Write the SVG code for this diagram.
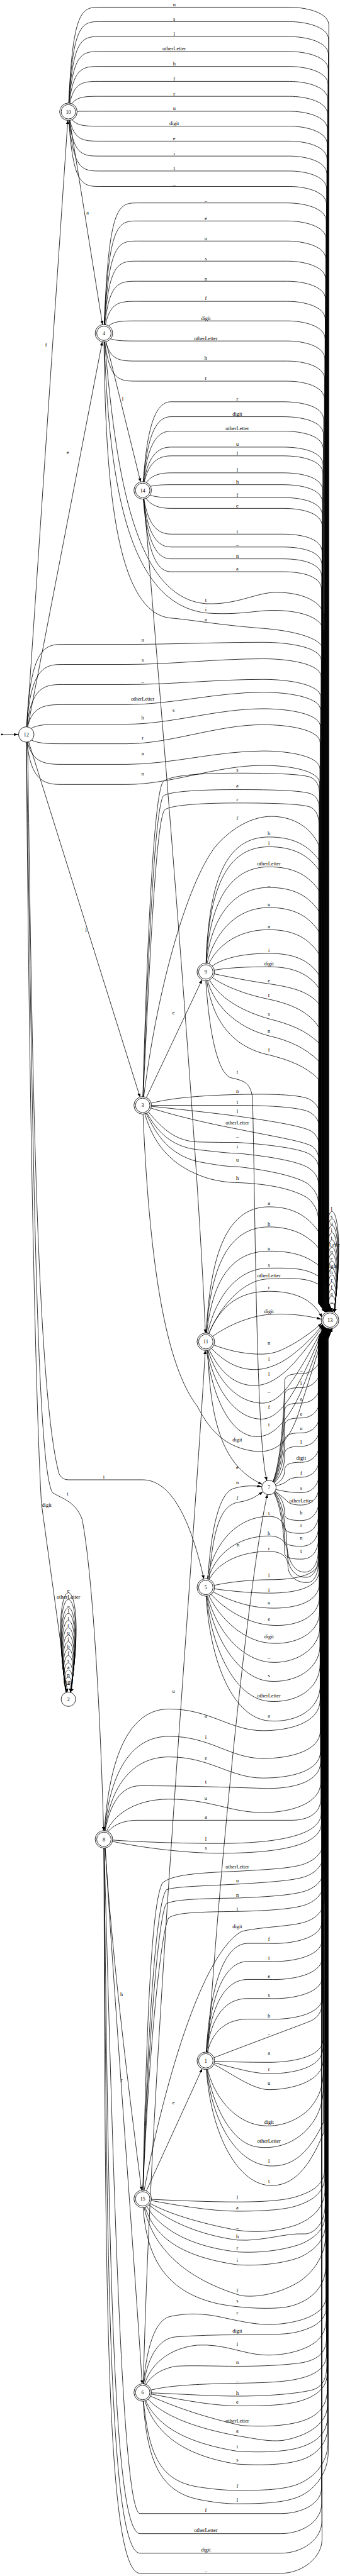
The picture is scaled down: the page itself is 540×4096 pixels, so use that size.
<svg xmlns="http://www.w3.org/2000/svg" width="540" height="4096" viewBox="0 0 540 4096">
<defs>
<marker id="ah" viewBox="0 0 10 7" refX="10" refY="3.5" markerWidth="7" markerHeight="5" orient="auto" markerUnits="userSpaceOnUse"><path d="M0,0L10,3.5L0,7z" fill="#000"/></marker>
<style>
.c path{fill:none;stroke:#000;stroke-width:0.8;vector-effect:non-scaling-stroke;marker-end:url(#ah)}
.t text{font-family:'Liberation Serif','Times New Roman',serif;font-size:10.3px;text-anchor:middle;fill:#000}
.nd circle{fill:#fff;stroke:#000;stroke-width:1}
.nd text{font-family:'Liberation Serif','Times New Roman',serif;font-size:10.3px;text-anchor:middle;fill:#000}
</style>
</defs>
<rect width="540" height="4096" fill="#fff"/>
<g transform="scale(0.819)">
<g id="connectors" class="c" transform="scale(1.275,1)">
<path d="M3,1426H28.2"/>
<path d="M40.8,1411L103.1,234"/>
<path d="M42.2,1411L155.5,664"/>
<path d="M43.5,1440L213,2130"/>
<path d="M42,1438C48,2000 55,2700 90,2862C94,2870 98,2873 105,2873H217C260,2873 290,2950 310,3065.4"/>
<path d="M40,1438C50,2200 55,2850 80,2898C95,2910 115,2915 125,2950C140,3050 152,3300 157.6,3554"/>
<path d="M40,1438C45,2200 55,2750 63,2919L102.5,3285"/>
<path d="M106.1,234L155.9,630"/>
<path d="M161.3,663.5L213.8,935.5"/>
<path d="M219,969C240,1300 300,2200 312.4,2588"/>
<path d="M222.7,2130.6L307.2,1902.4"/>
<path d="M313,1904C318,2000 330,2080 350,2092C370,2098 380,2100 384,2130C388,2300 389,2800 406,2874.6"/>
<path d="M316,2621C320,2780 345,2850 399.1,2882.1"/>
<path d="M316,3066C320,2990 330,2900 355,2890C370,2884 385,2884 398.1,2886.2"/>
<path d="M318,3067C325,2950 340,2920 365,2916C380,2913 390,2905 400,2896"/>
<path d="M316,3985C335,3600 380,3050 406.6,2901.6"/>
<path d="M160,3588C170,3800 200,4100 215.3,4252"/>
<path d="M160,3588C175,3900 205,4400 216.2,4628"/>
<path d="M222.6,4253.5L307.4,4016.5"/>
<path d="M218,4628C230,4000 290,3100 312.2,2622"/>
<path d="M104,217C110,14 125,14 153,14H440C465,14 500.1,24 500.1,49V2530L506.1,2547"/>
<path d="M104,217C110,42 125,42 153,42H440C465,42 499.8,52 499.8,77V2530L505.9,2547"/>
<path d="M104,217C110,71 125,71 153,71H440C465,71 499.5,81 499.5,106V2530L505.7,2547"/>
<path d="M104,217C110,100 125,100 153,100H440C465,100 499.2,110 499.2,135V2530L505.4,2547"/>
<path d="M104,217C110,129 125,129 153,129H440C465,129 498.9,139 498.9,164V2530L505.2,2547"/>
<path d="M104,217C110,158 125,158 153,158H440C465,158 498.6,168 498.6,193V2530L505,2547"/>
<path d="M104,217C110,187 125,187 153,187H440C465,187 498.3,197 498.3,222V2530L504.8,2547"/>
<path d="M104,217C110,216 125,216 153,216H440C465,216 498,226 498,251V2530L504.6,2547"/>
<path d="M104,217C110,245 125,245 153,245H440C465,245 497.7,255 497.7,280V2530L504.3,2547"/>
<path d="M104,217C110,274 125,274 153,274H440C465,274 497.4,284 497.4,309V2530L504.1,2547"/>
<path d="M104,217C110,303 125,303 153,303H440C465,303 497.1,313 497.1,338V2530L503.9,2547"/>
<path d="M104,217C110,332 125,332 153,332H440C465,332 496.8,342 496.8,367V2530L503.7,2547"/>
<path d="M104,217C110,362 125,362 153,362H440C465,362 496.6,372 496.6,397V2530L503.5,2547"/>
<path d="M158,647C165,394 180,394 210,394H437C462,394 496.1,404 496.1,429V2530L503.1,2547"/>
<path d="M158,647C165,429 180,429 210,429H437C462,429 495.8,439 495.8,464V2530L502.9,2547"/>
<path d="M158,647C165,468 180,468 210,468H437C462,468 495.5,478 495.5,503V2530L502.7,2547"/>
<path d="M158,647C165,507 180,507 210,507H437C462,507 495.2,517 495.2,542V2530L502.5,2547"/>
<path d="M158,647C165,546 180,546 210,546H437C462,546 495,556 495,581V2530L502.3,2547"/>
<path d="M158,647C165,585 180,585 210,585H437C462,585 494.7,595 494.7,620V2530L502,2547"/>
<path d="M158,647C165,623 180,623 210,623H437C462,623 494.4,633 494.4,658V2530L501.8,2547"/>
<path d="M158,647C165,662 180,662 210,662H437C462,662 494.1,672 494.1,697V2530L501.6,2547"/>
<path d="M158,647C165,701 180,701 210,701H437C462,701 493.8,711 493.8,736V2530L501.4,2547"/>
<path d="M158,647C165,740 180,740 210,740H437C462,740 493.5,750 493.5,775V2530L501.2,2547"/>
<path d="M158,647C175,900 200,1160 313,1172C360,1175 390,1150 420,1150C462,1150 493.2,1170 493.2,1200V2530L500.9,2547"/>
<path d="M158,647C165,900 185,1170 313,1190C360,1195 390,1185 415,1185C460,1185 492.9,1200 492.9,1230V2530L500.7,2547"/>
<path d="M158,647C160,900 170,1190 260,1200C290,1203 330,1213 400,1220C450,1225 492.6,1240 492.6,1265V2530L500.5,2547"/>
<path d="M217,952C222,849 232,780 260,780H430C462,780 492.2,790 492.2,815V2530L500.2,2547"/>
<path d="M217,952C222,866 232,809 260,809H430C462,809 492,819 492,844V2530L500,2547"/>
<path d="M217,952C222,883 232,837 260,837H430C462,837 491.7,847 491.7,872V2530L499.8,2547"/>
<path d="M217,952C222,902 232,868 260,868H430C462,868 491.4,878 491.4,903V2530L499.6,2547"/>
<path d="M217,952C222,912 232,885 260,885H430C462,885 491.2,895 491.2,920V2530L499.4,2547"/>
<path d="M217,952C222,932 232,918 260,918H430C462,918 490.9,928 490.9,953V2530L499.2,2547"/>
<path d="M217,952C222,945 232,941 260,941H430C462,941 490.6,951 490.6,976V2530L499,2547"/>
<path d="M217,952C222,960 232,966 260,966H430C462,966 490.4,976 490.4,1001V2530L498.8,2547"/>
<path d="M217,952C222,973 232,987 260,987H430C462,987 490.1,997 490.1,1022V2530L498.6,2547"/>
<path d="M217,952C222,1003 232,1037 260,1037H430C462,1037 489.9,1047 489.9,1072V2530L498.5,2547"/>
<path d="M217,952C222,1018 232,1062 260,1062H430C462,1062 489.6,1072 489.6,1097V2530L498.2,2547"/>
<path d="M217,952C222,1032 232,1085 260,1085H430C462,1085 489.4,1095 489.4,1120V2530L498.1,2547"/>
<path d="M217,952C222,1047 232,1110 260,1110H430C462,1110 489.1,1120 489.1,1145V2530L497.9,2547"/>
<path d="M40,1426C45,1251 70,1251 97,1251H193C260,1251 330,1247 400,1247C440,1247 488.7,1257 488.7,1282V2530L497.6,2547"/>
<path d="M40,1426C45,1290 70,1290 97,1290H193C260,1290 330,1279 400,1279C440,1279 488.4,1289 488.4,1314V2530L497.3,2547"/>
<path d="M40,1426C45,1329 70,1329 97,1329H193C260,1329 330,1319 400,1319C440,1319 488,1329 488,1354V2530L497,2547"/>
<path d="M40,1426C45,1368 70,1368 97,1368H193C260,1368 330,1344 400,1344C440,1344 487.7,1354 487.7,1379V2530L496.8,2547"/>
<path d="M40,1426C45,1406 70,1406 97,1406H193C260,1406 330,1376 400,1376C440,1376 487.3,1386 487.3,1411V2530L496.5,2547"/>
<path d="M40,1426C45,1444 70,1444 97,1444H193C260,1444 330,1407 400,1407C440,1407 486.9,1417 486.9,1442V2530L496.2,2547"/>
<path d="M40,1426C45,1484 70,1484 97,1484H193C260,1484 330,1458 400,1458C440,1458 486.6,1468 486.6,1493V2530L495.9,2547"/>
<path d="M40,1426C45,1523 70,1523 97,1523H193C260,1523 330,1486 400,1486C440,1486 486.2,1496 486.2,1521V2530L495.7,2547"/>
<path d="M217,2146C222,1900 232,1560 247,1520C252,1506 300,1501 361,1501C420,1501 455,1503 470,1508C478,1511 485.8,1520 485.8,1540V2530L495.4,2547"/>
<path d="M217,2146C224,1900 234,1580 248,1546C254,1537 300,1533 361,1533C420,1533 455,1535 470,1540C478,1543 485.5,1550 485.5,1570V2530L495.1,2547"/>
<path d="M217,2146C226,1920 236,1600 250,1573C256,1564 300,1559 361,1559C420,1559 455,1561 470,1566C478,1569 485.1,1580 485.1,1600V2530L494.8,2547"/>
<path d="M217,2146C240,1900 290,1700 330,1640C355,1605 385,1585 413,1585C440,1585 470,1600 484.7,1640V2530L494.6,2547"/>
<path d="M217,2146C240,2138 270,2128 361,2125C420,2123 460,2126 472,2135C480,2142 486.9,2150 486.9,2170V2530L496.1,2547"/>
<path d="M217,2146H361C410,2146 460,2150 472,2160C479,2166 486.6,2175 486.6,2195V2530L495.8,2547"/>
<path d="M217,2146C260,2152 320,2160 361,2167C410,2176 455,2185 472,2195C479,2200 486.2,2210 486.2,2230V2530L495.6,2547"/>
<path d="M217,2146C260,2165 320,2182 361,2192C410,2205 460,2215 474,2225C480,2230 485.8,2240 485.8,2260V2530L495.3,2547"/>
<path d="M217,2146C240,2180 260,2215 300,2217C330,2218 340,2218 361,2218C410,2222 455,2230 470,2240C478,2246 485.5,2255 485.5,2275V2530L495.1,2547"/>
<path d="M217,2146C235,2190 255,2225 300,2232C330,2236 345,2239 361,2239C410,2245 455,2255 470,2268C478,2275 485.1,2285 485.1,2305V2530L494.8,2547"/>
<path d="M217,2146C235,2200 255,2240 300,2255C330,2262 345,2265 361,2265C410,2272 455,2285 470,2300C477,2308 484.7,2320 484.7,2340V2530L494.6,2547"/>
<path d="M217,2146C230,2220 260,2265 317,2288C335,2294 350,2296 361,2296C400,2298 440,2305 467,2325C477,2335 484.4,2350 484.4,2370V2530L494.3,2547"/>
<path d="M217,2146C225,2400 245,2640 300,2730C320,2780 345,2812 390,2818C420,2820 440,2800 455,2740C470,2680 485,2620 494.9,2577.4"/>
<path d="M313,1887C316,1705 345,1625 409,1625C445,1625 470,1640 488,1675V2530L497,2547"/>
<path d="M313,1887C316,1724 345,1644 409,1644C445,1644 470,1659 487.7,1694V2530L496.8,2547"/>
<path d="M313,1887C316,1763 345,1683 409,1683C445,1683 470,1698 487.4,1733V2530L496.6,2547"/>
<path d="M313,1887C316,1803 345,1723 409,1723C445,1723 470,1738 487.1,1773V2530L496.3,2547"/>
<path d="M313,1887C316,1842 345,1762 409,1762C445,1762 470,1777 486.8,1812V2530L496.1,2547"/>
<path d="M313,1887C318,1860 345,1805 409,1805C445,1805 470,1820 486.6,1855V2530L495.9,2547"/>
<path d="M313,1887C330,1860 370,1851 409,1851C445,1851 470,1862 486.3,1895V2530L495.7,2547"/>
<path d="M313,1887C340,1878 380,1877 409,1877C445,1877 470,1890 486,1920V2530L495.5,2547"/>
<path d="M313,1887C340,1895 380,1905 409,1910C445,1917 470,1925 485.7,1950V2530L495.3,2547"/>
<path d="M313,1887C330,1910 370,1930 409,1940C445,1950 470,1965 485.4,1995V2530L495,2547"/>
<path d="M313,1887C325,1930 360,1960 409,1978C440,1988 465,2000 485.1,2025V2530L494.8,2547"/>
<path d="M313,1887C320,1950 360,1995 409,2011C440,2020 465,2035 484.8,2060V2530L494.6,2547"/>
<path d="M313,1887C320,1990 360,2035 409,2048C440,2058 465,2070 484.5,2095V2530L494.4,2547"/>
<path d="M313,2605C318,2450 340,2343 409,2343C445,2343 470,2360 489.1,2400V2530L497.9,2547"/>
<path d="M313,2605C318,2480 340,2382 409,2382C440,2382 470,2395 488.4,2430V2530L497.3,2547"/>
<path d="M313,2605C320,2500 345,2429 409,2429C440,2429 465,2435 487.7,2460V2530L496.7,2547"/>
<path d="M313,2605C325,2520 360,2462 409,2462C440,2462 465,2460 486.9,2480V2530L496.2,2547"/>
<path d="M313,2605C330,2540 370,2483 409,2483C440,2483 465,2478 486.2,2495V2530L495.6,2547"/>
<path d="M313,2605C330,2540 360,2507 409,2507C445,2507 475,2520 489.5,2557.2"/>
<path d="M313,2605C340,2575 380,2555 409,2552C440,2549 470,2555 488.7,2561.2"/>
<path d="M313,2605C340,2620 370,2630 400,2629C420,2628 430,2620 445,2610C465,2595 480,2580 489.5,2568.8"/>
<path d="M313,2605C335,2640 360,2660 390,2659C410,2658 430,2645 445,2630C465,2610 480,2590 490.5,2571.5"/>
<path d="M313,2605C330,2660 355,2690 387,2690C410,2690 430,2670 448,2645C465,2620 480,2595 491.8,2573.9"/>
<path d="M313,2605C325,2670 355,2720 395,2724C415,2726 430,2710 450,2670C468,2635 482,2600 492.6,2575"/>
<path d="M313,2605C322,2690 355,2752 395,2755C415,2757 432,2735 452,2690C470,2650 483,2605 493.4,2576"/>
<path d="M313,2605C320,2710 350,2785 387,2789C410,2792 432,2770 455,2710C472,2660 484,2610 494.4,2576.9"/>
<path d="M409,2888C428,2870 433,2707 433,2682C433,2669 445,2667 458,2667C478,2667 489.8,2647 489.8,2617V2592L489.9,2570.2"/>
<path d="M409,2888C428,2870 433,2734 433,2709C433,2696 445,2694 458,2694C478,2694 489.5,2674 489.5,2644V2592L490.2,2571"/>
<path d="M409,2888C428,2870 433,2764 433,2739C433,2726 445,2724 458,2724C478,2724 489.1,2704 489.1,2674V2592L490.6,2571.8"/>
<path d="M409,2888C428,2870 433,2793 433,2768C433,2755 445,2753 458,2753C478,2753 488.7,2733 488.7,2703V2592L491,2572.5"/>
<path d="M409,2888C428,2870 433,2822 433,2797C433,2784 445,2782 458,2782C478,2782 488.4,2762 488.4,2732V2592L491.4,2573.2"/>
<path d="M409,2888C428,2870 433,2848 433,2823C433,2810 445,2808 458,2808C478,2808 488,2788 488,2758V2592L491.8,2573.9"/>
<path d="M409,2888C425,2880 433,2870 433,2854C433,2841 445,2839 458,2839C478,2839 487.7,2819 487.7,2789V2592L492.3,2574.6"/>
<path d="M409,2888C425,2884 433,2880 438,2874C442,2870 448,2868 458,2868C478,2868 487.3,2848 487.3,2818V2592L492.7,2575.2"/>
<path d="M409,2888C425,2894 440,2898 458,2898C478,2898 486.9,2878 486.9,2848V2592L493.3,2575.8"/>
<path d="M409,2888C425,2900 433,2910 438,2916C442,2920 448,2922 458,2922C478,2922 486.6,2902 486.6,2872V2592L493.8,2576.4"/>
<path d="M409,2888C428,2900 433,2922 433,2940C433,2950 445,2952 458,2952C478,2952 486.2,2932 486.2,2902V2592L494.4,2576.9"/>
<path d="M409,2888C428,2900 433,2947 433,2965C433,2975 445,2977 458,2977C478,2977 485.8,2957 485.8,2927V2592L494.9,2577.4"/>
<path d="M409,2888C428,2900 433,2972 433,2990C433,3000 445,3002 458,3002C478,3002 485.5,2982 485.5,2952V2592L495.5,2577.9"/>
<path d="M409,2888C428,2900 433,2997 433,3015C433,3025 445,3027 458,3027C478,3027 485.1,3007 485.1,2977V2592L496.2,2578.3"/>
<path d="M313,3082C322,2990 365,2944 409,2944C428,2944 436,2960 436,2990C436,3030 448,3055 466,3052C476,3050 484,3035 484,3010V2600L494,2579"/>
<path d="M313,3082C324,3010 368,2982 409,2982C428,2982 437,2995 437,3015C437,3045 450,3065 468,3062C477,3060 484.3,3045 484.3,3020V2600L494.2,2579"/>
<path d="M313,3082C326,3030 370,3012 409,3012C428,3012 438,3022 438,3040C438,3060 452,3075 470,3072C478,3070 484.6,3055 484.6,3030V2600L494.4,2579"/>
<path d="M313,3082C340,3072 380,3067 409,3067C445,3067 484.9,3060 484.9,3030V2600L494.7,2579"/>
<path d="M313,3082C340,3088 380,3093 409,3093C445,3093 485.2,3085 485.2,3050V2600L494.9,2579"/>
<path d="M313,3082C335,3100 370,3120 409,3122C450,3124 485.5,3110 485.5,3075V2600L495.1,2579"/>
<path d="M313,3082C330,3115 370,3150 409,3155C450,3160 485.8,3140 485.8,3100V2600L495.3,2579"/>
<path d="M313,3082C325,3130 365,3185 409,3190C450,3195 486,3170 486,3130V2600L495.5,2579"/>
<path d="M313,3082C322,3150 360,3220 409,3227C450,3232 486.3,3200 486.3,3160V2600L495.8,2579"/>
<path d="M313,3082C320,3170 360,3258 409,3264C450,3268 486.6,3240 486.6,3195V2600L496,2579"/>
<path d="M313,3082C318,3190 355,3298 409,3303C450,3307 486.9,3280 486.9,3230V2600L496.2,2579"/>
<path d="M313,3082C316,3210 350,3335 409,3341C450,3345 487.2,3320 487.2,3270V2600L496.4,2579"/>
<path d="M158,3571C165,3400 200,3318 257,3318C320,3318 350,3360 400,3360C440,3360 486.9,3345 486.9,3300V2600L496.1,2579"/>
<path d="M158,3571C165,3440 200,3371 257,3371C320,3371 350,3414 400,3414C440,3414 487.2,3400 487.2,3360V2600L496.3,2579"/>
<path d="M158,3571C165,3470 200,3411 257,3411C320,3411 350,3452 400,3452C440,3452 487.4,3440 487.4,3400V2600L496.5,2579"/>
<path d="M158,3571C165,3500 185,3467 213,3467C280,3467 350,3470 400,3472C445,3474 487.7,3460 487.7,3420V2600L496.7,2579"/>
<path d="M158,3571C165,3530 200,3493 257,3493C320,3493 350,3519 400,3519C445,3519 487.9,3500 487.9,3460V2600L496.9,2579"/>
<path d="M158,3571C165,3545 185,3534 210,3534H443C470,3534 488.2,3520 488.2,3490V2600L497.2,2579"/>
<path d="M158,3571C200,3576 280,3579 333,3579C400,3579 488.5,3570 488.5,3520V2600L497.4,2579"/>
<path d="M158,3571C200,3585 280,3598 333,3598C400,3598 488.8,3590 488.8,3540V2600L497.6,2579"/>
<path d="M158,3571C172,4200 185,4880 213,4880H427C460,4880 489.1,4860 489.1,4830V2600L497.8,2579"/>
<path d="M158,3571C165,4300 170,4919 213,4919H427C460,4919 489.3,4895 489.3,4860V2600L498,2579"/>
<path d="M158,3571C162,4350 165,4957 213,4957H427C460,4957 489.5,4930 489.5,4895V2600L498.2,2579"/>
<path d="M158,3571C160,4400 160,4996 213,4996H427C460,4996 489.8,4965 489.8,4930V2600L498.3,2579"/>
<path d="M313,4001C318,3860 340,3773 377,3773H409C440,3775 489.8,3765 489.8,3730V2600L498.4,2579"/>
<path d="M313,4001C318,3880 340,3808 377,3808H409C440,3810 490.1,3800 490.1,3765V2600L498.6,2579"/>
<path d="M313,4001C318,3900 340,3843 377,3843H409C440,3845 490.3,3835 490.3,3800V2600L498.8,2579"/>
<path d="M313,4001C318,3920 340,3880 377,3880H409C440,3882 490.5,3872 490.5,3837V2600L498.9,2579"/>
<path d="M313,4001C318,3950 340,3920 377,3920H409C440,3922 490.7,3912 490.7,3877V2600L499.1,2579"/>
<path d="M313,4001C380,3968 450,3935 470,3925C480,3920 490.9,3910 490.9,3880V2600L499.2,2579"/>
<path d="M313,4001C340,4003 380,4004 409,4004C440,4004 491.2,3995 491.2,3960V2600L499.4,2579"/>
<path d="M313,4001C340,4008 380,4026 409,4026C445,4026 491.4,4015 491.4,3975V2600L499.6,2579"/>
<path d="M313,4001C340,4013 380,4057 409,4057C445,4057 491.6,4040 491.6,4000V2600L499.7,2579"/>
<path d="M313,4001C320,4060 350,4113 390,4125C420,4133 450,4120 470,4095C480,4080 491.8,4060 491.8,4020V2600L499.9,2579"/>
<path d="M313,4001C320,4080 350,4160 390,4168C420,4174 450,4160 470,4130C480,4115 492,4090 492,4050V2600L500,2579"/>
<path d="M313,4001C320,4120 360,4200 409,4205C445,4208 470,4180 492.2,4120V2600L500.2,2579"/>
<path d="M313,4001C318,4140 360,4238 409,4243C445,4246 470,4210 492.5,4140V2600L500.4,2579"/>
<path d="M217,4269C222,4000 228,3700 247,3656C260,3640 300,3636 361,3633C400,3630 440,3628 460,3620C475,3614 492.8,3600 492.8,3570V2600L500.6,2579"/>
<path d="M217,4269C223,4000 235,3700 253,3669C265,3663 300,3662 361,3658C400,3655 440,3652 460,3645C475,3640 493,3625 493,3595V2600L500.8,2579"/>
<path d="M217,4269C224,4000 240,3720 253,3696C265,3688 300,3686 361,3685C400,3683 440,3680 460,3673C475,3668 493.2,3655 493.2,3625V2600L500.9,2579"/>
<path d="M217,4269C225,4000 245,3740 257,3723C270,3713 300,3712 361,3711C400,3710 440,3707 460,3700C475,3695 493.4,3680 493.4,3650V2600L501.1,2579"/>
<path d="M217,4269C240,4100 300,3800 367,3750C390,3742 440,3740 460,3733C475,3728 493.6,3715 493.6,3685V2600L501.3,2579"/>
<path d="M217,4269C260,4272 320,4275 361,4275C400,4275 433,4272 450,4265C470,4257 493.9,4245 493.9,4210V2600L501.4,2579"/>
<path d="M217,4269C260,4280 320,4293 361,4293C400,4293 433,4290 450,4283C470,4275 494.1,4260 494.1,4225V2600L501.6,2579"/>
<path d="M217,4269C240,4290 290,4313 361,4330C390,4335 420,4333 450,4320C470,4310 494.3,4290 494.3,4250V2600L501.8,2579"/>
<path d="M217,4269C240,4300 290,4337 361,4349C400,4352 433,4335 463,4337C475,4338 494.5,4320 494.5,4280V2600L501.9,2579"/>
<path d="M217,4269C235,4320 280,4360 361,4372C400,4375 433,4367 455,4358C475,4348 494.7,4330 494.7,4300V2600L502.1,2579"/>
<path d="M217,4269C230,4340 270,4380 361,4397C400,4400 433,4393 455,4383C475,4372 495,4350 495,4320V2600L502.3,2579"/>
<path d="M217,4269C225,4350 270,4420 367,4457C400,4462 433,4447 455,4430C475,4413 495.2,4380 495.2,4340V2600L502.4,2579"/>
<path d="M217,4269C220,4380 250,4450 333,4473C370,4482 409,4483 430,4480C460,4476 495.4,4450 495.4,4400V2600L502.6,2579"/>
<path d="M217,4645C222,4560 235,4503 260,4497C280,4492 300,4490 330,4497C360,4505 385,4513 409,4513C440,4513 495.7,4500 495.7,4460V2600L502.8,2579"/>
<path d="M217,4645C222,4580 240,4540 267,4537C300,4534 330,4533 361,4533C400,4533 433,4533 450,4528C470,4522 496,4510 496,4480V2600L503,2579"/>
<path d="M217,4645C222,4600 250,4560 300,4553C340,4550 370,4570 400,4572C430,4574 455,4565 470,4555C485,4545 496.3,4530 496.3,4500V2600L503.2,2579"/>
<path d="M217,4645C222,4620 240,4600 267,4594C290,4592 330,4594 361,4594C400,4594 433,4592 460,4587C480,4582 496.6,4570 496.6,4540V2600L503.4,2579"/>
<path d="M217,4645C240,4635 270,4629 361,4627C400,4626 433,4625 455,4618C475,4612 496.8,4600 496.8,4570V2600L503.7,2579"/>
<path d="M217,4645C280,4648 320,4652 361,4652C420,4652 460,4645 475,4640C490,4634 497.1,4620 497.1,4590V2600L503.9,2579"/>
<path d="M217,4645C260,4655 320,4671 361,4671C400,4671 433,4670 455,4662C475,4655 497.4,4640 497.4,4610V2600L504.1,2579"/>
<path d="M217,4645C250,4665 300,4690 367,4709C400,4712 433,4710 455,4702C475,4695 497.7,4680 497.7,4640V2600L504.3,2579"/>
<path d="M217,4645C235,4680 280,4710 361,4729C390,4735 410,4741 430,4738C460,4732 498,4710 498,4670V2600L504.5,2579"/>
<path d="M217,4645C230,4700 270,4740 361,4759C400,4762 433,4760 455,4752C475,4744 498.3,4730 498.3,4690V2600L504.8,2579"/>
<path d="M217,4645C228,4710 265,4765 361,4784C400,4787 433,4785 455,4777C475,4770 498.6,4750 498.6,4710V2600L505,2579"/>
<path d="M217,4645C225,4760 240,4815 300,4828C330,4834 350,4835 361,4835C400,4835 433,4834 455,4822C480,4808 498.9,4780 498.9,4740V2600L505.2,2579"/>
<path d="M217,4645C222,4770 240,4835 300,4852C330,4860 350,4861 361,4861C400,4861 433,4859 455,4847C480,4833 499.2,4800 499.2,4760V2600L505.4,2579"/>
<path d="M101,3285.5C68,3027.8 140,3027.8 107,3285.5"/>
<path d="M101,3285.5C69.8,3045.2 138.2,3045.2 107,3285.5"/>
<path d="M101,3285.5C71.7,3066.5 136.3,3066.5 107,3285.5"/>
<path d="M101,3285.5C73.5,3081.2 134.5,3081.2 107,3285.5"/>
<path d="M101,3285.5C75.4,3099.8 132.6,3099.8 107,3285.5"/>
<path d="M101,3285.5C77.2,3118.5 130.8,3118.5 107,3285.5"/>
<path d="M101,3285.5C79.1,3137.2 128.9,3137.2 107,3285.5"/>
<path d="M101,3285.5C80.9,3154.5 127.1,3154.5 107,3285.5"/>
<path d="M101,3285.5C82.8,3173.2 125.2,3173.2 107,3285.5"/>
<path d="M101,3285.5C84.6,3190.5 123.4,3190.5 107,3285.5"/>
<path d="M101,3285.5C86.5,3209.2 121.5,3209.2 107,3285.5"/>
<path d="M101,3285.5C88.3,3227.8 119.7,3227.8 107,3285.5"/>
<path d="M101,3285.5C90.2,3246.5 117.8,3246.5 107,3285.5"/>
<path d="M101,3285.5C92,3265.2 116,3265.2 107,3285.5"/>
<path d="M502,2546C475,2287.3 535,2287.3 508,2547.8"/>
<path d="M502,2546C476.5,2306 533.5,2306 508,2547.8"/>
<path d="M502,2546C478,2323.3 532,2323.3 508,2547.8"/>
<path d="M502,2546C479.5,2342 530.5,2342 508,2547.8"/>
<path d="M502,2546C481,2360.7 529,2360.7 508,2547.8"/>
<path d="M502,2546C482.5,2379.3 527.5,2379.3 508,2547.8"/>
<path d="M502,2546C484,2396.7 526,2396.7 508,2547.8"/>
<path d="M502,2546C485.5,2415.3 524.5,2415.3 508,2547.8"/>
<path d="M502,2546C487,2434 523,2434 508,2547.8"/>
<path d="M502,2546C488.5,2451.3 521.5,2451.3 508,2547.8"/>
<path d="M502,2546C490,2470 520,2470 508,2547.8"/>
<path d="M502,2546C491.5,2488.7 518.5,2488.7 508,2547.8"/>
<path d="M502,2546C493,2506 517,2506 508,2547.8"/>
<path d="M502,2546C494.5,2524.7 515.5,2524.7 508,2547.8"/>
</g>
<g id="edge-labels" class="t">
<text x="89.3" y="673">f</text><text x="131.3" y="881">e</text><text x="167" y="1809">l</text><text x="201.5" y="2871">i</text><text x="131.3" y="2903">t</text><text x="90.5" y="2925">digit</text>
<text x="170" y="416">a</text><text x="238" y="778">l</text><text x="336.6" y="1382">s</text><text x="336.6" y="1969">e</text><text x="460.3" y="2084">t</text><text x="460.3" y="2852">e</text>
<text x="460.3" y="2882">n</text><text x="460.3" y="2912">f</text><text x="461.6" y="3003">n</text><text x="235.9" y="3876">h</text><text x="235.9" y="4041">r</text><text x="336.6" y="4085">e</text><text x="336.6" y="3287">u</text>
<text x="337.9" y="12">n</text><text x="337.9" y="40">s</text><text x="337.9" y="69">l</text><text x="337.9" y="98">otherLetter</text><text x="337.9" y="127">h</text><text x="337.9" y="156">f</text><text x="337.9" y="185">r</text><text x="337.9" y="214">u</text><text x="337.9" y="243">digit</text><text x="337.9" y="272">e</text><text x="337.9" y="301">i</text><text x="337.9" y="330">t</text><text x="337.9" y="359">_</text>
<text x="399.1" y="391">_</text><text x="399.1" y="427">e</text><text x="399.1" y="466">u</text><text x="399.1" y="505">s</text><text x="399.1" y="544">n</text><text x="399.1" y="583">f</text><text x="399.1" y="621">digit</text><text x="399.1" y="660">otherLetter</text><text x="399.1" y="699">h</text><text x="399.1" y="738">r</text><text x="399.1" y="1169">t</text><text x="399.1" y="1187">i</text><text x="399.1" y="1206">a</text>
<text x="460.3" y="778">r</text><text x="460.3" y="807">digit</text><text x="460.3" y="835">otherLetter</text><text x="460.3" y="866">u</text><text x="460.3" y="883">i</text><text x="460.3" y="916">l</text><text x="460.3" y="939">h</text><text x="460.3" y="964">f</text><text x="460.3" y="985">e</text><text x="460.3" y="1035">t</text><text x="460.3" y="1059">_</text><text x="460.3" y="1083">n</text><text x="460.3" y="1108">a</text>
<text x="276.7" y="1246">u</text><text x="276.7" y="1284">s</text><text x="276.7" y="1325">_</text><text x="276.7" y="1360">otherLetter</text><text x="276.7" y="1397">h</text><text x="276.7" y="1436">r</text><text x="276.7" y="1467">a</text><text x="276.7" y="1505">n</text>
<text x="460.3" y="1498">s</text><text x="460.3" y="1529">a</text><text x="460.3" y="1556">r</text><text x="460.3" y="1592">f</text><text x="460.3" y="2122">n</text><text x="460.3" y="2143">t</text><text x="460.3" y="2161">l</text><text x="460.3" y="2183">otherLetter</text><text x="460.3" y="2208">_</text><text x="460.3" y="2230">i</text><text x="460.3" y="2255">u</text><text x="460.3" y="2291">h</text><text x="460.3" y="2799">digit</text>
<text x="521.5" y="1622">h</text><text x="521.5" y="1641">l</text><text x="521.5" y="1680">otherLetter</text><text x="521.5" y="1720">_</text><text x="521.5" y="1759">u</text><text x="521.5" y="1802">a</text><text x="521.5" y="1849">i</text><text x="521.5" y="1874">digit</text><text x="521.5" y="1907">e</text><text x="521.5" y="1935">r</text><text x="521.5" y="1972">s</text><text x="521.5" y="2005">n</text><text x="521.5" y="2042">f</text>
<text x="521.5" y="2340">a</text><text x="521.5" y="2380">h</text><text x="521.5" y="2427">u</text><text x="521.5" y="2459">s</text><text x="521.5" y="2480">otherLetter</text><text x="521.5" y="2503">r</text><text x="521.5" y="2549">digit</text><text x="521.5" y="2611">n</text><text x="521.5" y="2642">i</text><text x="521.5" y="2672">l</text><text x="521.5" y="2703">_</text><text x="521.5" y="2735">f</text><text x="521.5" y="2769">t</text>
<text x="584" y="2662">_</text><text x="584" y="2689">i</text><text x="584" y="2719">a</text><text x="584" y="2748">e</text><text x="584" y="2777">u</text><text x="584" y="2803">l</text><text x="584" y="2834">digit</text><text x="584" y="2863">f</text><text x="584" y="2893">s</text><text x="584" y="2917">otherLetter</text><text x="584" y="2940">h</text><text x="584" y="2964">r</text><text x="584" y="2989">n</text><text x="584" y="3015">t</text>
<text x="521.5" y="2941">t</text><text x="521.5" y="2980">h</text><text x="521.5" y="3010">r</text><text x="521.5" y="3062">l</text><text x="521.5" y="3090">i</text><text x="521.5" y="3115">u</text><text x="521.5" y="3146">e</text><text x="521.5" y="3181">digit</text><text x="521.5" y="3220">_</text><text x="521.5" y="3256">s</text><text x="521.5" y="3295">otherLetter</text><text x="521.5" y="3335">a</text>
<text x="399.1" y="3336">n</text><text x="399.1" y="3376">i</text><text x="399.1" y="3416">e</text><text x="399.1" y="3463">t</text><text x="399.1" y="3494">u</text><text x="399.1" y="3531">a</text><text x="399.1" y="3574">l</text><text x="399.1" y="3591">s</text><text x="399.1" y="4877">f</text><text x="399.1" y="4916">otherLetter</text><text x="399.1" y="4954">digit</text><text x="399.1" y="4993">_</text>
<text x="521.5" y="3768">f</text><text x="521.5" y="3805">i</text><text x="521.5" y="3840">e</text><text x="521.5" y="3877">s</text><text x="521.5" y="3917">h</text><text x="521.5" y="3949">_</text><text x="521.5" y="3989">a</text><text x="521.5" y="4021">r</text><text x="521.5" y="4048">u</text><text x="521.5" y="4123">digit</text><text x="521.5" y="4160">otherLetter</text><text x="521.5" y="4199">l</text><text x="521.5" y="4238">t</text>
<text x="460.3" y="3628">otherLetter</text><text x="460.3" y="3655">u</text><text x="460.3" y="3682">n</text><text x="460.3" y="3709">t</text><text x="460.3" y="3743">digit</text><text x="460.3" y="4270">l</text><text x="460.3" y="4289">a</text><text x="460.3" y="4326">_</text><text x="460.3" y="4345">h</text><text x="460.3" y="4368">r</text><text x="460.3" y="4392">i</text><text x="460.3" y="4450">f</text><text x="460.3" y="4470">s</text>
<text x="460.3" y="4493">r</text><text x="460.3" y="4529">digit</text><text x="460.3" y="4554">i</text><text x="460.3" y="4590">n</text><text x="460.3" y="4624">_</text><text x="460.3" y="4649">h</text><text x="460.3" y="4667">e</text><text x="460.3" y="4703">otherLetter</text><text x="460.3" y="4723">a</text><text x="460.3" y="4753">t</text><text x="460.3" y="4779">s</text><text x="460.3" y="4830">f</text><text x="460.3" y="4857">l</text>
<text x="132.6" y="3091">e</text><text x="132.6" y="3104">otherLetter</text><text x="132.6" y="3118">_</text><text x="132.6" y="3131">l</text><text x="132.6" y="3145">t</text><text x="132.6" y="3159">r</text><text x="132.6" y="3173">u</text><text x="132.6" y="3186">i</text><text x="132.6" y="3200">h</text><text x="132.6" y="3213">f</text><text x="132.6" y="3227">s</text><text x="132.6" y="3241">a</text><text x="132.6" y="3255">n</text><text x="132.6" y="3269">digit</text>
<text x="643" y="2351">l</text><text x="643" y="2365">s</text><text x="643" y="2378">u</text><text x="643" y="2392">i</text><text x="643" y="2406">t</text><text x="640" y="2420">otherLetter</text><text x="643" y="2433">n</text><text x="643" y="2447">e</text><text x="643" y="2461">digit</text><text x="643" y="2474">h</text><text x="643" y="2488">r</text><text x="643" y="2502">f</text><text x="643" y="2515">a</text><text x="643" y="2528">_</text>
</g>
<circle cx="3.8" cy="1426" r="1.8" fill="#000"/>
<g id="node-12" class="nd"><circle cx="51" cy="1426" r="15"/><text x="51" y="1429.5">12</text></g>
<g id="node-10" class="nd"><circle cx="132.6" cy="217" r="17"/><circle cx="132.6" cy="217" r="14"/><text x="132.6" y="220.5">10</text></g>
<g id="node-4" class="nd"><circle cx="201.5" cy="647" r="17"/><circle cx="201.5" cy="647" r="14"/><text x="201.5" y="650.5">4</text></g>
<g id="node-14" class="nd"><circle cx="276.7" cy="952" r="17"/><circle cx="276.7" cy="952" r="14"/><text x="276.7" y="955.5">14</text></g>
<g id="node-9" class="nd"><circle cx="399.1" cy="1887" r="17"/><circle cx="399.1" cy="1887" r="14"/><text x="399.1" y="1890.5">9</text></g>
<g id="node-3" class="nd"><circle cx="276.7" cy="2146" r="17"/><circle cx="276.7" cy="2146" r="14"/><text x="276.7" y="2149.5">3</text></g>
<g id="node-11" class="nd"><circle cx="399.1" cy="2605" r="17"/><circle cx="399.1" cy="2605" r="14"/><text x="399.1" y="2608.5">11</text></g>
<g id="node-13" class="nd"><circle cx="640" cy="2563" r="17"/><circle cx="640" cy="2563" r="14"/><text x="640" y="2566.5">13</text></g>
<g id="node-7" class="nd"><circle cx="521.5" cy="2888" r="14"/><text x="521.5" y="2891.5">7</text></g>
<g id="node-5" class="nd"><circle cx="399.1" cy="3082" r="17"/><circle cx="399.1" cy="3082" r="14"/><text x="399.1" y="3085.5">5</text></g>
<g id="node-2" class="nd"><circle cx="132.6" cy="3299" r="14"/><text x="132.6" y="3302.5">2</text></g>
<g id="node-8" class="nd"><circle cx="201.5" cy="3571" r="17"/><circle cx="201.5" cy="3571" r="14"/><text x="201.5" y="3574.5">8</text></g>
<g id="node-1" class="nd"><circle cx="399.1" cy="4001" r="17"/><circle cx="399.1" cy="4001" r="14"/><text x="399.1" y="4004.5">1</text></g>
<g id="node-15" class="nd"><circle cx="276.7" cy="4269" r="17"/><circle cx="276.7" cy="4269" r="14"/><text x="276.7" y="4272.5">15</text></g>
<g id="node-6" class="nd"><circle cx="276.7" cy="4645" r="17"/><circle cx="276.7" cy="4645" r="14"/><text x="276.7" y="4648.5">6</text></g>
</g>
</svg>
